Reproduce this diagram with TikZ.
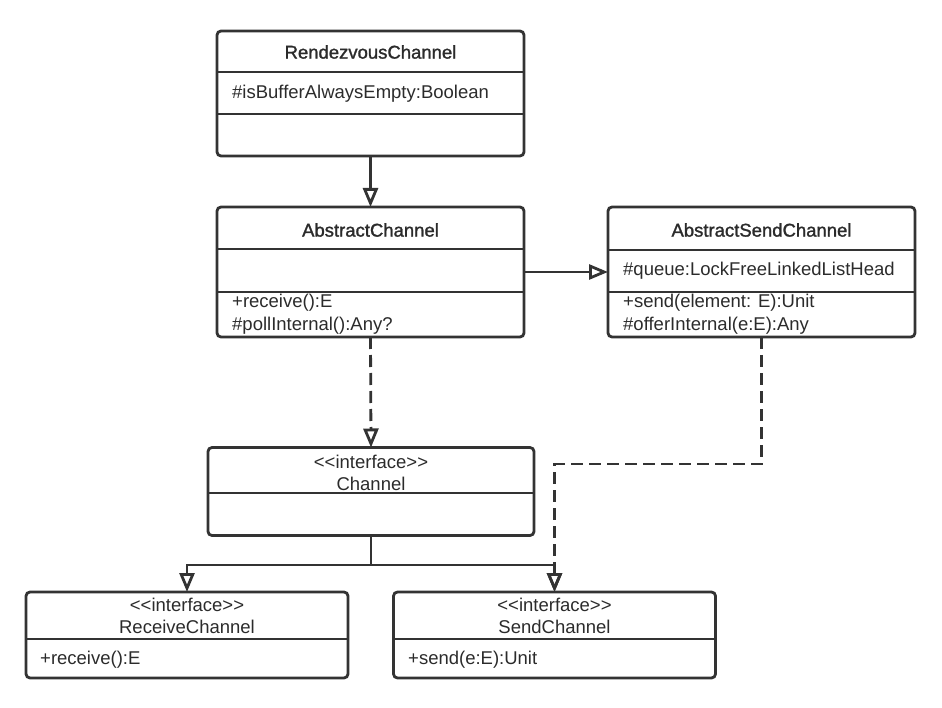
\documentclass[tikz,border=0pt]{standalone}
\usepackage{fontspec}
\setmainfont{Liberation Sans}
\newfontfamily\titlefont[FakeBold=1.4]{Liberation Sans}
\usetikzlibrary{arrows.meta}
\definecolor{linecol}{HTML}{333333}
\definecolor{txtcol}{HTML}{2B2B2B}

\begin{document}
\begin{tikzpicture}[x=1pt, y=-1pt,
		classbox/.style={draw=linecol, line width=2.8pt, rounded corners=4pt, outer sep=0pt, inner sep=0pt},
		divider/.style={draw=linecol, line width=2.8pt},
		title/.style={text=txtcol, inner sep=0pt, font=\titlefont\fontsize{18.5}{22}\selectfont},
		member/.style={text=txtcol, inner sep=0pt, anchor=west, font=\fontsize{18.5}{22}\selectfont},
		stereo/.style={text=txtcol, inner sep=0pt, font=\fontsize{18.5}{22}\selectfont},
		inherit/.style={draw=linecol, line width=2.8pt, -{Triangle[open, length=19pt, width=15pt]}},
		realize/.style={inherit, dash pattern=on 12pt off 6pt}]
			\useasboundingbox (0,0) rectangle (942,708);

			% Draw class boxes
			\node[classbox, minimum width=307, minimum height=125] (rendezvous) at (370.5,93.5) {};
			\node[classbox, minimum width=307, minimum height=130] (abstract) at (370.5,272) {};
			\node[classbox, minimum width=307, minimum height=130] (sendabs) at (761.5,272) {};
			\node[classbox, minimum width=326, minimum height=88] (channel) at (371,491.5) {};
			\node[classbox, minimum width=322, minimum height=86] (recv) at (187,635) {};
			\node[classbox, minimum width=322, minimum height=86] (sendch) at (554.5,635) {};

			% Draw compartment lines
			\draw[divider] (217,72) -- (524,72);
			\draw[divider] (217,114) -- (524,114);
			\draw[divider] (217,249) -- (524,249);
			\draw[divider] (217,292) -- (524,292);
			\draw[divider] (608,250) -- (915,250);
			\draw[divider] (608,292) -- (915,292);
			\draw[divider] (208,493) -- (534,493);
			\draw[divider] (26,639) -- (348,639);
			\draw[divider] (393.5,639) -- (715.5,639);

			% Label classes
			\node[title] (rendezvousname) at (370.5,52) {RendezvousChannel};
			\node[member] (rendezvousattr) at (232,94) {\#isBufferAlwaysEmpty:Boolean};

			\node[title] (abstractname) at (370.5,230) {AbstractChannel};
			\node[member] (abstractop1) at (232,303) {+receive():E};
			\node[member] (abstractop2) at (232,326) {\#pollInternal():Any?};

			\node[title] (sendabsname) at (761.5,230) {AbstractSendChannel};
			\node[member] (sendabsattr) at (623,271) {\#queue:LockFreeLinkedListHead};
			\node[member] (sendabsop1) at (623,303) {+send(element: E):Unit};
			\node[member] (sendabsop2) at (623,326) {\#offerInternal(e:E):Any};

			\node[stereo] (channelstereo) at (371,462) {{<}{<}interface{>}{>}};
			\node[stereo] (channelname) at (371,484) {Channel};

			\node[stereo] (recvstereo) at (187,605) {{<}{<}interface{>}{>}};
			\node[stereo] (recvname) at (187,627) {ReceiveChannel};
			\node[member] (recvop) at (40,660) {+receive():E};

			\node[stereo] (sendchstereo) at (554.5,605) {{<}{<}interface{>}{>}};
			\node[stereo] (sendchname) at (554.5,627) {SendChannel};
			\node[member] (sendchop) at (408,660) {+send(e:E):Unit};

			% Draw relations
			\coordinate (elbow) at (554.5,464);
			\coordinate (fork) at (371,565);
			\draw[inherit] (rendezvous.south) -- (abstract.north);
			\draw[inherit] (abstract.east) -- (sendabs.west);
			\draw[realize] (abstract.south) -- (channel.north);
			\draw[realize] (sendabs.south) |- (elbow) -- (sendch.north);
			\draw[draw=linecol, line width=2.8pt] (channel.south) -- (fork);
			\draw[inherit] (fork) -| (recv.north);
			\draw[inherit] (fork) -| (sendch.north);
		\end{tikzpicture}
\end{document}
